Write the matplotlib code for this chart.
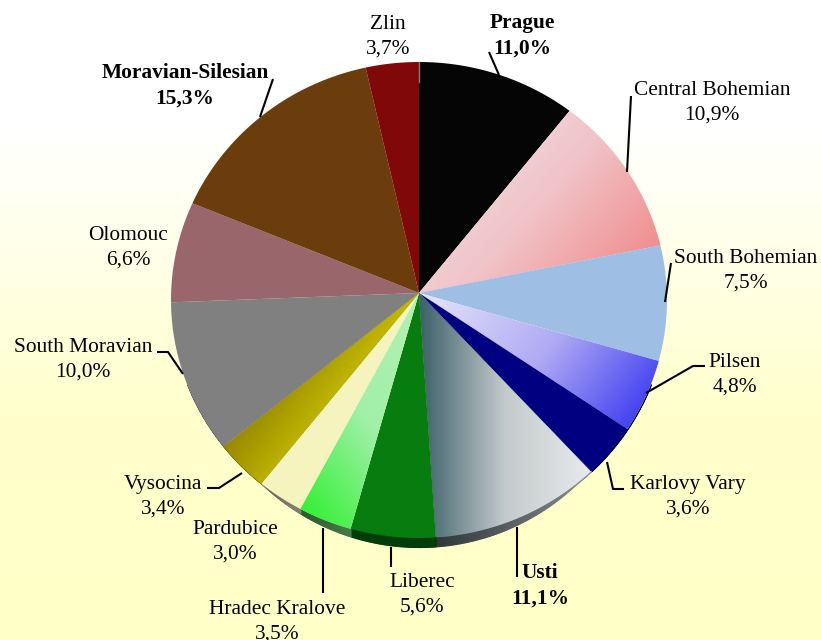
import numpy as np
import matplotlib
matplotlib.use("Agg")
import matplotlib.pyplot as plt
from matplotlib.patches import Polygon
from matplotlib.colors import LinearSegmentedColormap, to_rgb

plt.rcParams['font.family'] = ['Liberation Serif', 'DejaVu Serif']

regions = ["Prague", "Central Bohemian", "South Bohemian", "Pilsen", "Karlovy Vary", "Usti",
           "Liberec", "Hradec Kralove", "Pardubice", "Vysocina", "South Moravian", "Olomouc",
           "Moravian-Silesian", "Zlin"]
shares = [11.0, 10.9, 7.5, 4.8, 3.6, 11.1, 5.6, 3.5, 3.0, 3.4, 10.0, 6.6, 15.3, 3.7]
bold_regions = ["Prague", "Usti", "Moravian-Silesian"]

# colour stops and gradient direction, one stop means flat
colors = [
    (["#050505"], None),
    (["#f2e4e8", "#f0c4c8", "#f08080"], (0.75, 0.66)),
    (["#9ebee4"], None),
    (["#e6e6fa", "#b0aaf4", "#2c2cf0"], (0.8, 0.6)),
    (["#000080"], None),
    (["#3c6069", "#c4cacb", "#e8eaec"], (1, 0)),
    (["#087d0f"], None),
    (["#b4f0b4", "#a0f0a8", "#28f028"], (-0.8, 0.6)),
    (["#f5f3be"], None),
    (["#968700", "#968700", "#d4cc00", "#d4cc00"], (0.8, 0.6)),
    (["#808080"], None),
    (["#99666b"], None),
    (["#6b3c0c"], None),
    (["#800808"], None),
]
# side colours, right end of the slice first since the arc runs right to left
rim_colors = [("#050505", "#050505"), ("#050505", "#050505"), ("#050505", "#050505"),
              ("#050505", "#050505"), ("#00004a", "#00004a"), ("#8c9093", "#30383b"),
              ("#023c0a", "#023c0a"), ("#4a7a4a", "#2a5a2a"), ("#808076", "#6a6a50"),
              ("#6d6800", "#5a5500"), ("#555555", "#555555"), ("#555555", "#555555"),
              ("#555555", "#555555"), ("#555555", "#555555")]

label_pos = [(522, 36), (712, 103), (746, 271), (735, 375), (688, 497), (540, 586),
             (422, 595), (277, 622), (235, 542), (163, 497), (83, 360), (128, 248),
             (185, 86), (388, 37)]

leaders = {
    "Prague": [(489, 52), (499, 75)],
    "Central Bohemian": [(631, 96), (627, 172)],
    "South Bohemian": [(671, 263), (665, 302)],
    "Pilsen": [(705, 366), (693, 366), (646, 393)],
    "Karlovy Vary": [(607, 462), (613, 489), (624, 489)],
    "Usti": [(517, 527), (517, 577)],
    "Liberec": [(391, 547), (391, 567)],
    "Hradec Kralove": [(323, 528), (323, 593)],
    "Vysocina": [(207, 488), (219, 488), (242, 473)],
    "South Moravian": [(157, 352), (168, 352), (183, 374)],
    "Moravian-Silesian": [(273, 79), (260, 117)],
}

apex = (419, 293)
cx, cy, rx, ry = 419, 300, 248, 238
rim_shift, rim_rx = 9, 232


def edge_point(theta):
    # ray from the apex out to the squashed top ellipse
    dx, dy = np.sin(theta), -np.cos(theta)
    ox, oy = apex[0] - cx, apex[1] - cy
    a = (dx / rx) ** 2 + (dy / ry) ** 2
    b = 2 * (ox * dx / rx ** 2 + oy * dy / ry ** 2)
    c = (ox / rx) ** 2 + (oy / ry) ** 2 - 1
    t = (-b + np.sqrt(b * b - 4 * a * c)) / (2 * a)
    return apex[0] + t * dx, apex[1] + t * dy


def gradient_cell(ax, clip, stops, direction, extent):
    x0, x1, y0, y1 = extent
    xx, yy = np.meshgrid(np.linspace(x0, x1, 160), np.linspace(y0, y1, 160))
    g = xx * direction[0] + yy * direction[1]
    g = (g - g.min()) / (g.max() - g.min())
    cmap = LinearSegmentedColormap.from_list("g", stops)
    im = ax.imshow(g, cmap=cmap, extent=(x0, x1, y1, y0), aspect='auto', zorder=3)
    im.set_clip_path(clip)


fig = plt.figure(figsize=(8.21, 6.40), dpi=100)
ax = fig.add_axes([0, 0, 1, 1])

bg = LinearSegmentedColormap.from_list("bg", [(0, "#ffffff"), (0.2, "#ffffff"), (0.65, "#ffffcc"), (1, "#ffffc8")])
ax.imshow(np.linspace(0, 1, 256).reshape(-1, 1), cmap=bg, extent=(0, 821, 640, 0), aspect='auto', zorder=0)

edges = np.cumsum([0] + shares) / sum(shares) * 2 * np.pi

for i, name in enumerate(regions):
    th = np.linspace(edges[i], edges[i + 1], 60)
    pts = np.array([edge_point(t) for t in th])
    poly = np.vstack([[apex], pts])

    # side of the disc, shows only along the bottom
    inside = (np.abs(pts[:, 0] - cx) < rim_rx) & (pts[:, 1] > cy)
    if inside.sum() > 1:
        xs = pts[inside, 0]
        ys = pts[inside, 1]
        low = cy + rim_shift + ry * np.sqrt(1 - ((xs - cx) / rim_rx) ** 2)
        c0, c1 = np.array(to_rgb(rim_colors[i][0])), np.array(to_rgb(rim_colors[i][1]))
        for j in range(len(xs) - 1):
            c = c0 + (c1 - c0) * j / (len(xs) - 2)
            ax.fill_between(xs[j:j + 2], ys[j:j + 2] - 1, np.maximum(ys, low)[j:j + 2],
                            facecolor=c, edgecolor=c, lw=0.8, zorder=2)

    stops, direction = colors[i]
    patch = Polygon(poly, closed=True, fc=stops[0], ec='none', zorder=3)
    ax.add_patch(patch)
    if direction is not None:
        extent = (poly[:, 0].min(), poly[:, 0].max(), poly[:, 1].min(), poly[:, 1].max())
        gradient_cell(ax, patch, stops, direction, extent)

ax.plot([419, 419], [62, 82], color="#808080", lw=1, zorder=4)

for name, path in leaders.items():
    ax.plot(*zip(*path), color="black", lw=1.5, zorder=4, solid_capstyle='butt')

for i, name in enumerate(regions):
    x, y = label_pos[i]
    weight = 'bold' if name in bold_regions else 'normal'
    pct = ("%.1f%%" % shares[i]).replace(".", ",")
    ax.text(x, y, name + "\n" + pct, ha='center', va='center', fontsize=15.4,
            fontweight=weight, color="black", linespacing=1.36, zorder=5)

ax.set_xlim(0, 821)
ax.set_ylim(640, 0)
ax.axis('off')

fig.savefig("out.png", dpi=100)
